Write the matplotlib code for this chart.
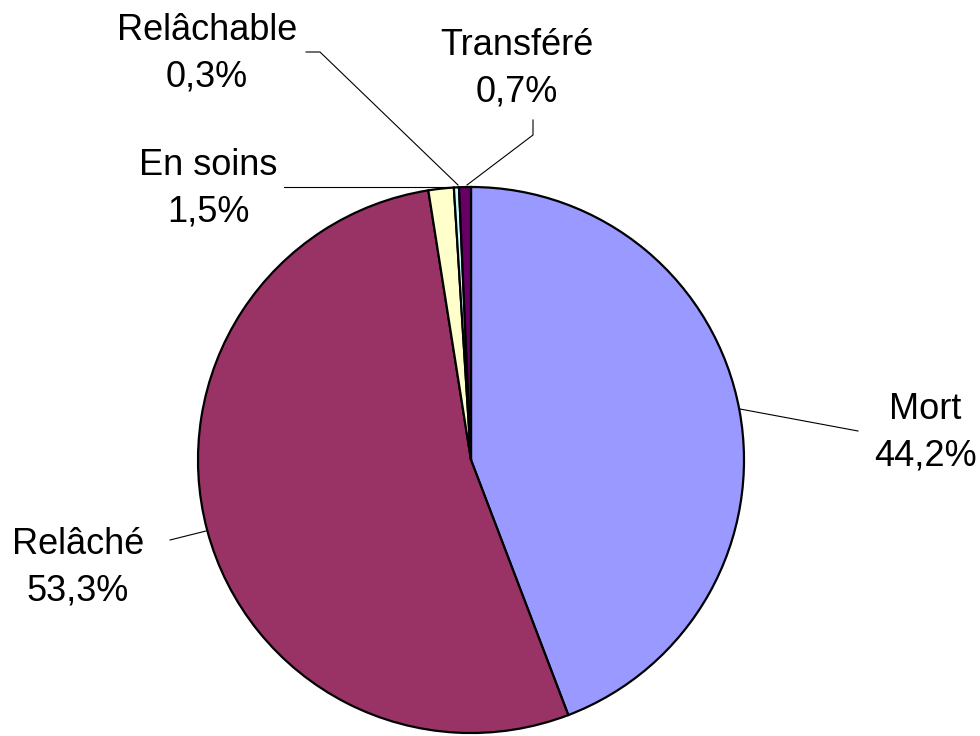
import numpy as np
import matplotlib
matplotlib.use('Agg')
import matplotlib.pyplot as plt

# Data
labels = ['Mort', 'Relâché', 'En soins', 'Relâchable', 'Transféré']
values = [44.2, 53.3, 1.5, 0.3, 0.7]
colors = ['#9999FF', '#993366', '#FFFFCC', '#CCFFFF', '#660066']
pct_text = ['44,2%', '53,3%', '1,5%', '0,3%', '0,7%']

plt.rcParams['font.family'] = ['Liberation Sans', 'DejaVu Sans']

fig = plt.figure(figsize=(9.8, 7.36), dpi=100)
ax = fig.add_axes([0, 0, 1, 1])
ax.set_xlim(0, 980)
ax.set_ylim(736, 0)
ax.set_aspect('equal')
ax.axis('off')

cx, cy, r = 471, 460, 273
# y axis is flipped, so counterclock=True draws clockwise on screen; start at top
wedges, _ = ax.pie(values, colors=colors, center=(cx, cy), radius=r,
                   startangle=-90, counterclock=True,
                   wedgeprops=dict(edgecolor='black', linewidth=1.6))
ax.set_xlim(0, 980)
ax.set_ylim(736, 0)

# label text centres and leader line paths (layout)
text_pos = [(925, 433), (78, 568), (208, 189), (207, 54), (517, 69)]
leaders = [
    [(740, 409), (858, 431)],
    [(206, 531), (170, 540)],
    [(457, 187), (284, 187)],
    [(458, 185), (320, 52), (306, 52)],
    [(467, 185), (533, 135), (533, 120)],
]

for lab, pct, (tx, ty), path in zip(labels, pct_text, text_pos, leaders):
    xs, ys = zip(*path)
    ax.plot(xs, ys, color='black', linewidth=0.8)
    ax.text(tx, ty, lab + '\n' + pct, ha='center', va='center',
            fontsize=26, linespacing=1.42, color='black')

fig.savefig('out.png', dpi=100)
